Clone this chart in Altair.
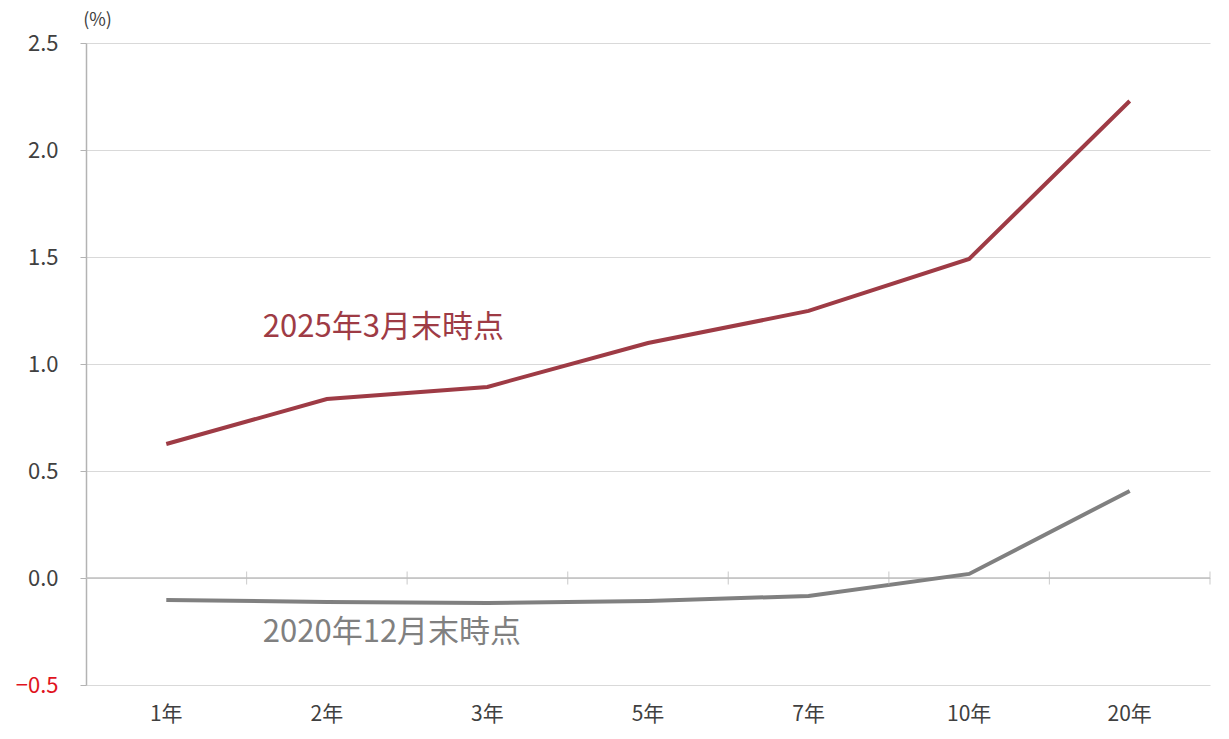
import altair as alt
import pandas as pd

categories = ["1年", "2年", "3年", "5年", "7年", "10年", "20年"]
series_2025 = [0.626, 0.836, 0.893, 1.098, 1.248, 1.491, 2.229]
series_2020 = [-0.103, -0.112, -0.117, -0.107, -0.084, 0.019, 0.407]
series_names = ["2025年3月末時点", "2020年12月末時点"]
label_values = [1.168, -0.257]
y_ticks = [-0.5, 0.0, 0.5, 1.0, 1.5, 2.0, 2.5]
tick_start_cats = ["2年", "3年", "5年", "7年", "10年", "20年"]
tick_end_cats = ["20年"]

RED = "#9E3B45"
GRAY = "#808080"
FONT = "Noto Sans CJK JP"

rows = []
for c, v in zip(categories, series_2025):
    rows.append({"cat": c, "value": v, "series": series_names[0]})
for c, v in zip(categories, series_2020):
    rows.append({"cat": c, "value": v, "series": series_names[1]})
df = pd.DataFrame(rows)

labels_df = pd.DataFrame({
    "cat": ["2年", "2年"],
    "value": label_values,
    "series": series_names,
})

W, H = 1124, 642

x_scale = alt.Scale(domain=categories, paddingInner=0, paddingOuter=0)
y_scale = alt.Scale(domain=[-0.5, 2.5], nice=False, zero=False)
color_scale = alt.Scale(domain=series_names, range=[RED, GRAY])

y_axis = alt.Axis(
    values=y_ticks, format=".1f", grid=True, gridColor="#d9d9d9", gridWidth=1,
    domain=True, domainColor="#b3b3b3", domainWidth=1.5,
    ticks=True, tickColor="#b3b3b3", tickSize=6,
    labelFont=FONT, labelFontSize=22, labelPadding=22,
    labelColor=alt.ExprRef("datum.value < 0 ? '#e0141e' : '#404040'"),
    title="(%)", titleAngle=0, titleFont=FONT, titleFontSize=18,
    titleFontWeight="normal", titleColor="#404040", titleAlign="center",
    titleBaseline="top", titleX=11, titleY=-32,
)
x_axis = alt.Axis(
    title=None, domain=False, ticks=False, grid=False, labelAngle=0, labelFont=FONT,
    labelFontSize=21, labelColor="#404040", labelPadding=18, orient="bottom",
)

X = lambda **kw: alt.X("cat:N", scale=x_scale, sort=categories, axis=x_axis, **kw)
Y = lambda: alt.Y("value:Q", scale=y_scale, axis=y_axis)

lines = alt.Chart(df).mark_line(strokeWidth=4).encode(
    x=X(),
    y=Y(),
    color=alt.Color("series:N", scale=color_scale, legend=None),
    detail="series:N",
)

zero = alt.Chart(pd.DataFrame({"value": [0.0]})).mark_rule(
    color="#bfbfbf", strokeWidth=1.5
).encode(y=Y())

ticks_start = alt.Chart(pd.DataFrame({"cat": tick_start_cats, "value": [0.0] * len(tick_start_cats)})).mark_tick(
    orient="vertical", size=13, thickness=1.2, color="#bfbfbf"
).encode(x=X(bandPosition=0), y=Y())

ticks_end = alt.Chart(pd.DataFrame({"cat": tick_end_cats, "value": [0.0]})).mark_tick(
    orient="vertical", size=13, thickness=1.2, color="#bfbfbf"
).encode(x=X(bandPosition=1), y=Y())

text = alt.Chart(labels_df).mark_text(
    align="left", baseline="middle", dx=-64, font=FONT, fontSize=31
).encode(
    x=X(),
    y=Y(),
    text="series:N",
    color=alt.Color("series:N", scale=color_scale, legend=None),
)

chart = alt.layer(zero, lines, ticks_start, ticks_end, text).properties(
    width=W, height=H,
    background="white",
    autosize=alt.AutoSizeParams(type="none"),
    padding={"left": 78, "top": 35, "right": 10, "bottom": 46},
).configure_view(strokeWidth=0)

chart.save("out.html", embed_options={"renderer": "svg", "actions": False})
